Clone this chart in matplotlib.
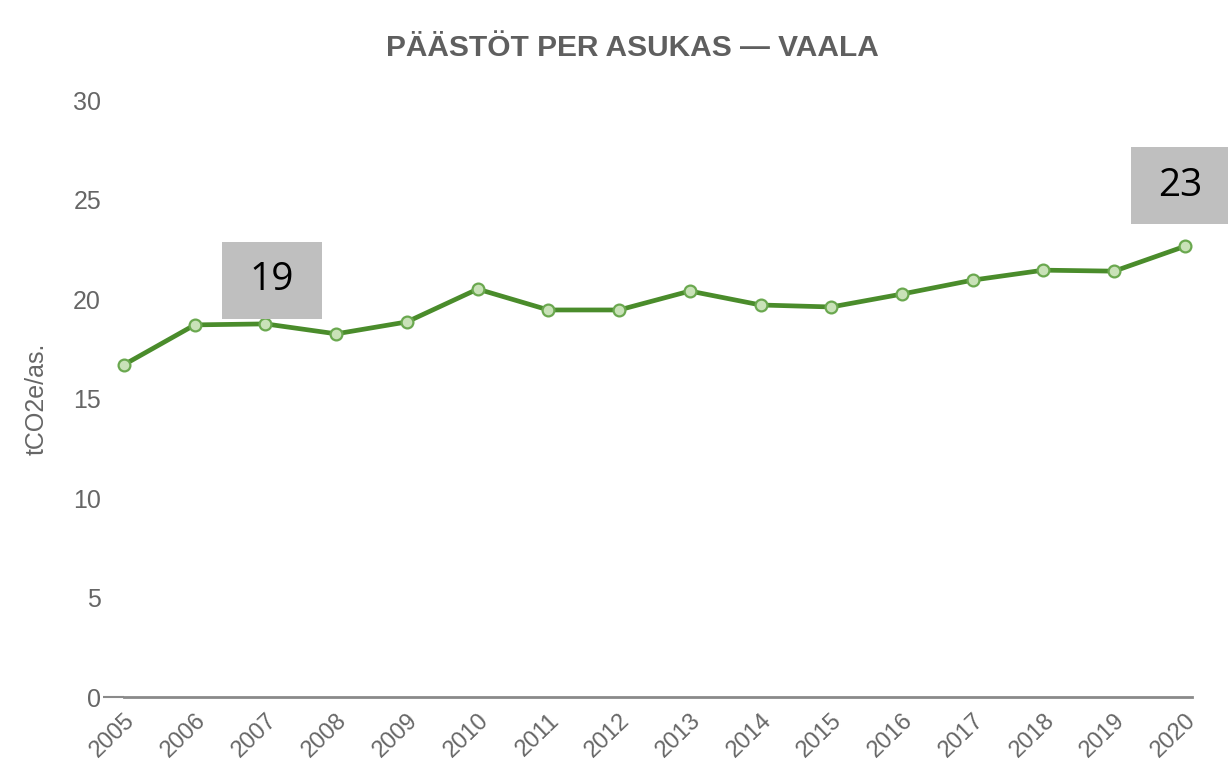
"""
Päästöt per asukas - Vaala, viivakaavio
"""

import matplotlib
matplotlib.use('Agg')
import matplotlib.pyplot as plt
from matplotlib.patches import Rectangle

plt.rcParams['font.family'] = ['Liberation Sans', 'DejaVu Sans']

# data
years = list(range(2005, 2021))
values = [16.7, 18.7, 18.75, 18.25, 18.85, 20.5, 19.45, 19.45,
          20.4, 19.7, 19.6, 20.25, 20.95, 21.45, 21.4, 22.65]
y_ticks = [0, 5, 10, 15, 20, 25, 30]

# nostetut arvot (vuosi, teksti)
callouts = [(2007, '19'), (2020, '23')]

title = 'PÄÄSTÖT PER ASUKAS — VAALA'
y_label = 'tCO2e/as.'

LINE = '#4a8c2b'
GRAY_TXT = '#666666'


def draw_chart():
    fig = plt.figure(figsize=(12.28, 7.70), dpi=100)
    fig.patch.set_facecolor('white')
    ax = fig.add_axes([0.101, 0.0948, 0.8697, 0.7753])

    ax.plot(years, values, color=LINE, linewidth=3.4, zorder=3,
            marker='o', markersize=8.5, markerfacecolor='#c9e2b8',
            markeredgecolor='#6aa84f', markeredgewidth=1.6, clip_on=False)

    ax.set_xlim(2005, 2020.1)
    ax.set_ylim(0, 30)

    # akselit
    for side in ['top', 'right', 'left']:
        ax.spines[side].set_visible(False)
    ax.spines['bottom'].set_color('#8a8a8a')
    ax.spines['bottom'].set_linewidth(2)

    ax.set_yticks(y_ticks)
    ax.set_yticklabels([str(t) for t in y_ticks])
    ax.tick_params(axis='y', length=15, pad=1.5, width=1.5, color='#8a8a8a',
                   labelsize=18, labelcolor=GRAY_TXT)
    # viiva vain nollan kohdalla
    for i, t in enumerate(ax.yaxis.get_major_ticks()):
        if i > 0:
            t.tick1line.set_visible(False)

    ax.set_xticks(years)
    ax.set_xticklabels([str(y) for y in years], rotation=44,
                       ha='right', va='top', rotation_mode='anchor')
    ax.tick_params(axis='x', length=0, pad=9, labelsize=17,
                   labelcolor=GRAY_TXT)

    ax.set_ylabel(y_label, fontsize=18, color=GRAY_TXT)
    ax.yaxis.set_label_coords(-0.071, 0.5)

    fig.text(0.515, 0.938, title, ha='center', va='center',
             fontsize=21.5, fontweight='bold', color='#5f5f5f')

    # harmaat laatikot
    box_w, box_h = 1.41, 3.87
    offsets = {2007: 2.2, 2020: 3.05}
    for yr, txt in callouts:
        v = values[years.index(yr)]
        cx = yr + (0.09 if yr == 2007 else -0.06)
        cy = v + offsets[yr]
        ax.add_patch(Rectangle((cx - box_w / 2, cy - box_h / 2), box_w, box_h,
                               facecolor='#bfbfbf', edgecolor='none',
                               zorder=5, clip_on=False))
        ax.text(cx, cy, txt, ha='center', va='center', fontsize=28,
                color='black', family=['Open Sans', 'DejaVu Sans'],
                zorder=6, clip_on=False)

    plt.savefig('out.png', dpi=100, facecolor='white')
    plt.close()


if __name__ == "__main__":
    draw_chart()
